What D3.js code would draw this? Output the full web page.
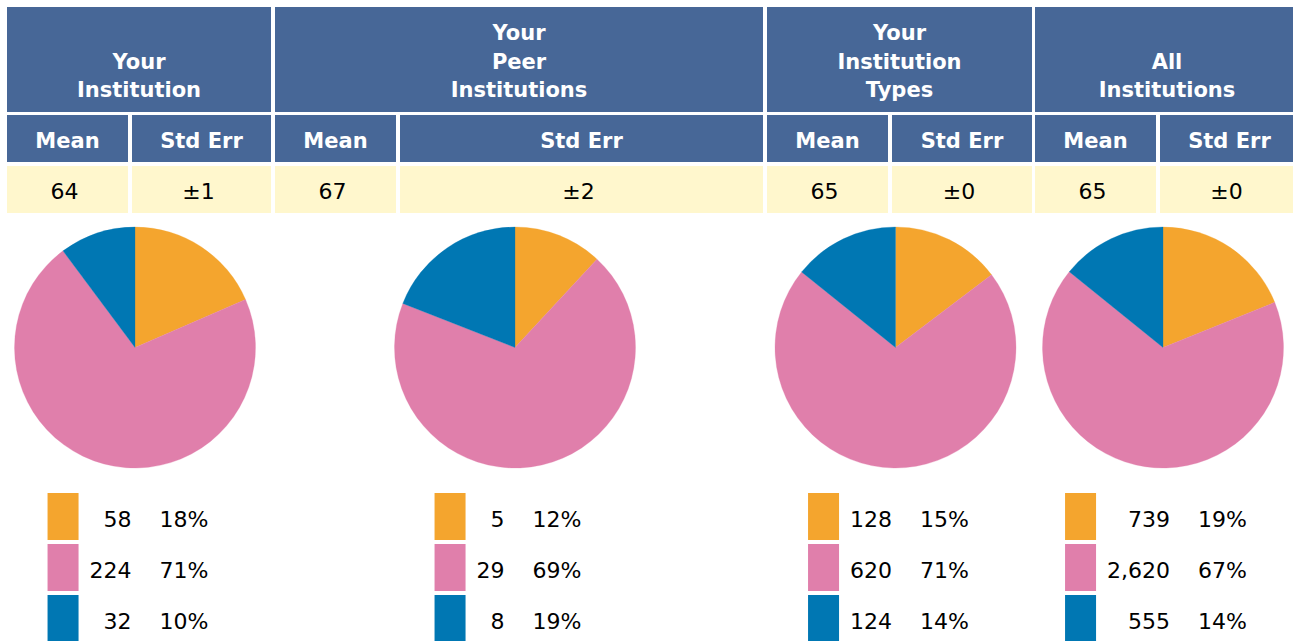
<!DOCTYPE html>
<html>
<head>
<meta charset="utf-8">
<script src="https://cdn.jsdelivr.net/npm/d3@7"></script>
<style>
  html, body { margin: 0; padding: 0; background: #ffffff; overflow: hidden; }
  svg { display: block; font-family: "DejaVu Sans", sans-serif; }
</style>
</head>
<body>
<svg id="chart" width="1293" height="641"></svg>
<script>
// Comparison groups
const groups = [
  ["Your", "Institution"],
  ["Your", "Peer", "Institutions"],
  ["Your", "Institution", "Types"],
  ["All", "Institutions"]
];
const subHeaders = ["Mean", "Std Err"];
const means = [64, 67, 65, 65];
const stdErrs = [1, 2, 0, 0];

// Response counts per group (orange, pink, blue)
const counts = [
  [58, 224, 32],
  [5, 29, 8],
  [128, 620, 124],
  [739, 2620, 555]
];
const percents = [
  [18, 71, 10],
  [12, 69, 19],
  [15, 71, 14],
  [19, 67, 14]
];
const sliceColors = ["#F4A52E", "#E07FAB", "#0077B3"];

// Table geometry
const groupEdges = [[7, 271], [275, 763], [767, 1032], [1035, 1299]];
const meanWidth = 121, gap = 4;
const row1 = [7, 112], row2 = [115, 162], row3 = [166, 213];
const headFill = "#476797", valueFill = "#FFF7CD";

const svg = d3.select("#chart");
const fmt = d3.format(",");

groups.forEach((lines, gi) => {
  const [x0, x1] = groupEdges[gi];
  // group title cell
  svg.append("rect").attr("x", x0).attr("y", row1[0])
    .attr("width", x1 - x0).attr("height", row1[1] - row1[0]).attr("fill", headFill);
  const t = svg.append("text").attr("fill", "#fff").attr("font-weight", "bold")
    .attr("font-size", 21).attr("text-anchor", "middle");
  lines.forEach((ln, li) => {
    t.append("tspan").attr("x", (x0 + x1) / 2)
      .attr("y", 97 - (lines.length - 1 - li) * 28.5).text(ln);
  });

  // sub header + value cells
  const cells = [[x0, x0 + meanWidth], [x0 + meanWidth + gap, x1]];
  const vals = [String(means[gi]), "\u00B1" + stdErrs[gi]];
  cells.forEach(([a, b], ci) => {
    svg.append("rect").attr("x", a).attr("y", row2[0])
      .attr("width", b - a).attr("height", row2[1] - row2[0]).attr("fill", headFill);
    svg.append("text").attr("x", (a + b) / 2).attr("y", 147.5)
      .attr("text-anchor", "middle").attr("fill", "#fff").attr("font-weight", "bold")
      .attr("font-size", 21).text(subHeaders[ci]);
    svg.append("rect").attr("x", a).attr("y", row3[0])
      .attr("width", b - a).attr("height", row3[1] - row3[0]).attr("fill", valueFill);
    svg.append("text").attr("x", (a + b) / 2 - 3).attr("y", 198.5)
      .attr("text-anchor", "middle").attr("fill", "#000")
      .attr("font-size", 22).text(vals[ci]);
  });

  // pie
  const cx = (x0 + x1) / 2 - 4, cy = 347.5, r = 120.5;
  const pie = d3.pie().sort(null).value(d => d)(counts[gi]);
  const arc = d3.arc().innerRadius(0).outerRadius(r);
  svg.append("g").attr("transform", `translate(${cx},${cy})`)
    .selectAll("path").data(pie).join("path")
    .attr("d", arc).attr("fill", (d, i) => sliceColors[i])
    .attr("stroke", (d, i) => sliceColors[i]).attr("stroke-width", 0.3);

  // legend: swatch, count (right aligned), percent
  const lg = svg.append("g");
  const numTexts = counts[gi].map(v => fmt(v));
  const pctTexts = percents[gi].map(v => v + "%");
  const measure = s => {
    const tt = lg.append("text").attr("font-size", 22).text(s);
    const w = tt.node().getComputedTextLength();
    tt.remove();
    return w;
  };
  const numW = d3.max(numTexts, measure);
  const pctW = d3.max(pctTexts, measure);
  const swW = 31, swH = 47, pitch = 51, pad = 11, colGap = 28;
  const total = swW + pad + numW + colGap + pctW;
  const left = cx - 7 - total / 2;
  counts[gi].forEach((v, i) => {
    const y = 493 + i * pitch;
    lg.append("rect").attr("x", left).attr("y", y).attr("width", swW).attr("height", swH)
      .attr("fill", sliceColors[i]);
    lg.append("text").attr("x", left + swW + pad + numW).attr("y", y + swH / 2 + 10)
      .attr("text-anchor", "end").attr("font-size", 22).attr("fill", "#000").text(numTexts[i]);
    lg.append("text").attr("x", left + swW + pad + numW + colGap).attr("y", y + swH / 2 + 10)
      .attr("font-size", 22).attr("fill", "#000").text(pctTexts[i]);
  });
});
</script>
</body>
</html>
